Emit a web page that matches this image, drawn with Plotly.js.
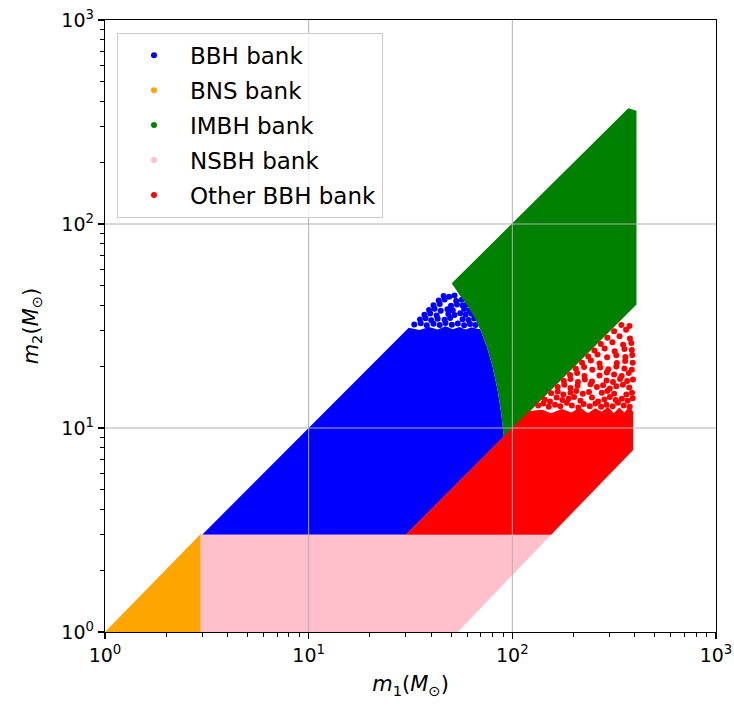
<!DOCTYPE html>
<html>
<head>
<meta charset="utf-8">
<script src="https://cdn.plot.ly/plotly-3.0.1.min.js"></script>
<style>html,body{margin:0;padding:0;background:#fff;}</style>
</head>
<body>
<div id="chart" style="width:734px;height:715px;"></div>
<script>
// Template bank coverage in the (m1, m2) plane, both axes logarithmic.

// Axis ticks
const tickVals = [1, 10, 100, 1000];
const tickText = ['10<sup>0</sup>', '10<sup>1</sup>', '10<sup>2</sup>', '10<sup>3</sup>'];
const minorTickVals = [2, 3, 4, 5, 6, 7, 8, 9, 20, 30, 40, 50, 60, 70, 80, 90, 200, 300, 400, 500, 600, 700, 800, 900];

// Bank names and colours (plot order)
const bankNames = ['BBH bank', 'BNS bank', 'IMBH bank', 'NSBH bank', 'Other BBH bank'];
const bankColors = ['#0000ff', '#ffa500', '#008000', '#ffc0cb', '#ff0000'];

// BBH bank: densely covered region outline (m1, m2 in solar masses)
const bbhEdgeM1 = [3, 31, 35, 39, 43, 47, 51, 55, 59, 63, 68, 69.4, 70, 75, 80, 85, 88, 90.9, 30, 3];
const bbhEdgeM2 = [3, 31, 30.2, 31.3, 30.4, 31.5, 30.5, 31.3, 30.4, 31.2, 30.6, 30.6, 30, 25, 20, 15, 12, 9.09, 3, 3];
// BBH bank: loosely packed templates at the high-mass end
const bbhSparseM1 = [
  33, 35.5, 38, 41, 44, 47, 50.5, 54, 58, 62, 66,
  35.2, 37.5, 40, 43, 46.5, 49.5, 57, 61, 65,
  37, 39.5, 42.5, 48.5, 52, 55.5, 59, 63,
  39, 41.5, 44.5, 48, 51, 58, 61.5,
  41, 44, 50, 53.5, 57, 59.5,
  43.5, 46.5, 53, 56.5,
  46, 49, 52];
const bbhSparseM2 = [
  32.2, 32.6, 31.9, 32.4, 32.0, 32.7, 32.1, 32.5, 31.9, 32.3, 32.0,
  34.0, 34.5, 33.7, 34.3, 33.9, 34.6, 34.1, 33.8, 34.4,
  35.9, 36.4, 35.6, 36.2, 35.8, 36.5, 35.9, 36.3,
  37.9, 38.4, 37.6, 38.2, 37.8, 38.3, 37.7,
  40.0, 40.5, 39.7, 40.3, 39.9, 40.2,
  42.2, 42.7, 41.9, 42.5,
  44.4, 44.0, 44.6];

// BNS bank outline
const bnsEdgeM1 = [1, 2.95, 2.95, 1];
const bnsEdgeM2 = [1, 1, 3.02, 1];

// IMBH bank outline
const imbhEdgeM1 = [50.4, 371, 407, 407, 90.9, 88, 85, 80, 75, 70, 65, 60, 55, 50.4];
const imbhEdgeM2 = [51.2, 369, 359, 40.3, 9.0, 12, 15, 20, 25, 30, 35, 40, 45, 51.2];

// NSBH bank outline
const nsbhEdgeM1 = [2.95, 54, 155, 2.95, 2.95];
const nsbhEdgeM2 = [1, 1, 3, 3, 1];

// Other BBH bank: densely covered region outline
const otherEdgeM1 = [30, 155, 392, 392, 375, 355, 335, 315, 295, 275, 255, 235, 215, 195, 175, 155, 140, 121, 30];
const otherEdgeM2 = [3, 3, 7.8, 12.0, 12.8, 11.9, 12.6, 11.8, 12.7, 12.0, 12.5, 11.8, 12.6, 11.9, 12.4, 11.8, 12.3, 12.1, 3];
// Other BBH bank: scattered templates above the dense part
const otherSparseM1 = [
  134, 142, 151, 162, 172, 185, 196, 211, 224, 240, 256, 273, 290, 311, 330, 352, 377,
  144, 153, 165, 176, 189, 201, 216, 246, 264, 283, 301, 322, 345, 368, 390,
  155, 167, 178, 193, 206, 222, 238, 275, 293, 316, 363, 387,
  167, 180, 193, 209, 242, 260, 279, 301, 324, 349, 375,
  179, 193, 210, 227, 246, 290, 312, 338, 366, 391,
  192, 208, 226, 268, 291, 316, 344, 373,
  205, 225, 247, 270, 296, 324, 355, 386,
  220, 243, 268, 326, 358, 390,
  236, 262, 292, 324, 359, 388,
  253, 284, 318, 355, 386,
  272, 310, 350, 384,
  293, 336, 378,
  316, 362,
  343, 376];
const otherSparseM2 = [
  12.9, 13.2, 12.7, 13.0, 12.8, 13.3, 12.9, 12.6, 13.1, 12.8, 13.2, 12.7, 13.0, 12.8, 13.3, 12.9, 12.7,
  13.8, 13.5, 14.1, 13.7, 13.9, 14.2, 13.6, 14.1, 13.5, 13.8, 14.2, 13.7, 13.9, 13.6, 14.0,
  14.8, 15.1, 14.6, 14.9, 15.2, 14.7, 15.0, 14.9, 15.2, 14.7, 14.6, 14.9,
  15.9, 16.3, 15.7, 16.1, 16.4, 15.9, 16.2, 15.6, 16.0, 16.3, 15.8,
  17.0, 17.4, 16.8, 17.3, 16.9, 17.1, 16.8, 17.4, 17.0, 17.3,
  18.2, 18.6, 18.0, 18.1, 18.7, 18.3, 18.0, 18.6,
  19.5, 19.9, 19.3, 19.8, 19.4, 20.0, 19.6, 19.3,
  20.9, 21.4, 20.7, 20.8, 21.3, 20.9,
  22.4, 22.9, 22.2, 22.7, 22.3, 22.8,
  24.0, 24.5, 23.8, 24.4, 24.1,
  25.8, 26.3, 25.6, 26.1,
  27.7, 28.2, 27.5,
  29.8, 30.3,
  32.0, 31.6];

const DOT = 6;

function region(xs, ys, color, group) {
  return {
    x: xs, y: ys, type: 'scatter', mode: 'lines', fill: 'toself',
    fillcolor: color, line: {width: 0, color: color},
    legendgroup: group, showlegend: false, hoverinfo: 'skip'
  };
}
function dots(xs, ys, color, name, group) {
  return {
    x: xs, y: ys, type: 'scatter', mode: 'markers', name: name,
    marker: {size: DOT, color: color, line: {width: 0}},
    legendgroup: group, hoverinfo: 'skip'
  };
}
// Legend-only key for a bank drawn purely as a filled region
function key(color, name, group) {
  return dots([null], [null], color, name, group);
}

// Grid lines at the inner major ticks, drawn over the banks
const lo = tickVals[0], hi = tickVals[tickVals.length - 1];
const gridX = [], gridY = [];
tickVals.slice(1, -1).forEach(t => {
  gridX.push(t, t, null, lo, hi, null);
  gridY.push(lo, hi, null, t, t, null);
});

const traces = [
  region(bbhEdgeM1, bbhEdgeM2, bankColors[0], 'bbh'),
  dots(bbhSparseM1, bbhSparseM2, bankColors[0], bankNames[0], 'bbh'),
  region(bnsEdgeM1, bnsEdgeM2, bankColors[1], 'bns'),
  key(bankColors[1], bankNames[1], 'bns'),
  region(imbhEdgeM1, imbhEdgeM2, bankColors[2], 'imbh'),
  key(bankColors[2], bankNames[2], 'imbh'),
  region(nsbhEdgeM1, nsbhEdgeM2, bankColors[3], 'nsbh'),
  key(bankColors[3], bankNames[3], 'nsbh'),
  region(otherEdgeM1, otherEdgeM2, bankColors[4], 'other'),
  dots(otherSparseM1, otherSparseM2, bankColors[4], bankNames[4], 'other'),
  {x: gridX, y: gridY, type: 'scatter', mode: 'lines', showlegend: false, hoverinfo: 'skip',
   line: {color: '#b0b0b0', width: 1}}
];

const FONT = 'DejaVu Sans, Arial, sans-serif';
function axis(title, standoff) {
  return {
    type: 'log', range: [0, 3], tickmode: 'array', tickvals: tickVals, ticktext: tickText,
    showgrid: false, zeroline: false, showline: true, mirror: true,
    linecolor: '#000', linewidth: 1.2, ticks: 'outside', ticklen: 6, tickwidth: 1.2, tickcolor: '#000',
    tickfont: {family: FONT, size: 19, color: '#000'},
    minor: {tickmode: 'array', tickvals: minorTickVals, ticks: 'outside', ticklen: 3.5, tickwidth: 1,
            tickcolor: '#000', showgrid: false},
    title: {text: title, standoff: standoff, font: {family: FONT, size: 21, color: '#000'}}
  };
}

const layout = {
  width: 734, height: 715,
  margin: {l: 105, r: 18, t: 20, b: 83},
  paper_bgcolor: '#fff', plot_bgcolor: '#fff',
  showlegend: true,
  xaxis: axis('<i>m</i><sub>1</sub>(<i>M</i><sub>⊙</sub>)', 11),
  yaxis: axis('<i>m</i><sub>2</sub>(<i>M</i><sub>⊙</sub>)', 17),
  legend: {
    x: 0.0196, y: 0.979, xanchor: 'left', yanchor: 'top',
    bgcolor: 'rgba(255,255,255,0.8)', bordercolor: '#cccccc', borderwidth: 1,
    font: {family: FONT, size: 23, color: '#000'},
    itemwidth: 62, traceorder: 'grouped', tracegroupgap: 2
  },
  hovermode: false
};

Plotly.newPlot('chart', traces, layout, {staticPlot: true, displayModeBar: false});
</script>
</body>
</html>
